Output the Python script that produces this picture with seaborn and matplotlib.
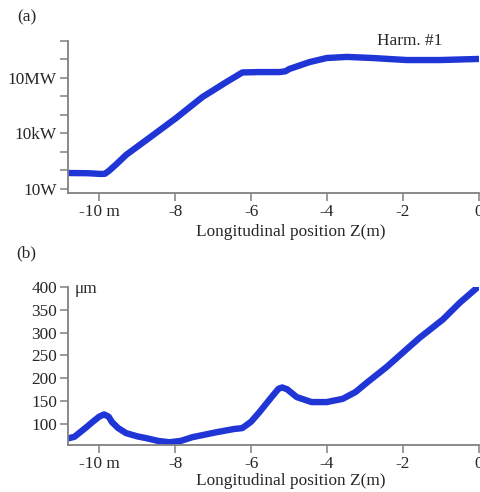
import numpy as np
import pandas as pd
import matplotlib.pyplot as plt
import seaborn as sns

# (a) 出力パワー (log10 W) vs 位置
z_power = [-10.79, -10.3, -9.95, -9.85, -9.74, -9.55, -9.29, -8.68, -7.97,
           -7.28, -6.65, -6.35, -6.23, -5.78, -5.25, -5.1, -4.99, -4.46,
           -4.01, -3.48, -2.80, -1.90, -1.03, 0.0]
log_power = [1.86, 1.85, 1.81, 1.82, 1.98, 2.33, 2.84, 3.76, 4.84,
             5.97, 6.78, 7.15, 7.30, 7.32, 7.32, 7.36, 7.49, 7.86,
             8.08, 8.14, 8.08, 7.97, 7.97, 8.03]

# (b) ビームサイズ (um) vs 位置
z_size = [-10.79, -10.65, -10.53, -10.35, -10.18, -10.0, -9.87, -9.75,
          -9.66, -9.5, -9.29, -9.0, -8.76, -8.45, -8.15, -7.85, -7.55,
          -6.91, -6.45, -6.23, -6.0, -5.78, -5.45, -5.28, -5.18, -5.05,
          -4.80, -4.41, -4.01, -3.59, -3.25, -2.96, -2.43, -1.82, -1.56,
          -0.95, -0.50, 0.0]
size_um = [69, 72, 80, 92, 104, 116, 121, 116,
           104, 91, 80, 73, 69, 63, 60, 63, 71,
           82, 89, 91, 105, 126, 160, 177, 180, 176,
           159, 148, 148, 155, 170, 190, 225, 270, 289,
           329, 366, 402]

x_ticks = [-10, -8, -6, -4, -2, 0]
x_labels = ["-10 m", "-8", "-6", "-4", "-2", "0"]
p_ticks = [1e1, 1e2, 1e3, 1e4, 1e5, 1e6, 1e7, 1e8, 1e9]
p_labels = ["10W", "", "", "10kW", "", "", "10MW", "", ""]
s_ticks = [100, 150, 200, 250, 300, 350, 400]

df_a = pd.DataFrame({"z": z_power, "P": np.power(10.0, log_power)})
df_b = pd.DataFrame({"z": z_size, "s": size_um})

sns.set_theme(style="ticks")
plt.rcParams['font.family'] = ['Liberation Serif', 'DejaVu Serif']
fs = 12.4

blue = "#2035d6"
gray = "#808080"

fig = plt.figure(figsize=(4.8, 4.92), dpi=100)
ax1 = fig.add_axes([68/480, 1-193/492, 411/480, 152/492])
ax2 = fig.add_axes([68/480, 1-445/492, 411/480, 158/492])

sns.lineplot(data=df_a, x="z", y="P", ax=ax1, color=blue, linewidth=4.6,
             solid_capstyle="round", solid_joinstyle="round")
sns.lineplot(data=df_b, x="z", y="s", ax=ax2, color=blue, linewidth=4.6,
             solid_capstyle="round", solid_joinstyle="round")

ax1.set_yscale("log")
ax1.set_ylim(10**0.78, 1e9)
ax1.set_yticks(p_ticks)
ax1.set_yticklabels(p_labels)
ax1.minorticks_off()
ax2.set_ylim(54, 400)
ax2.set_yticks(s_ticks)

for ax in (ax1, ax2):
    ax.set_xlim(-10.82, 0)
    ax.set_xticks(x_ticks)
    ax.set_xticklabels(x_labels)
    ax.set_ylabel("")
    ax.set_xlabel("Longitudinal position Z(m)", fontsize=fs)
    for s in ("top", "right"):
        ax.spines[s].set_visible(False)
    for s in ("left", "bottom"):
        ax.spines[s].set_color(gray)
        ax.spines[s].set_linewidth(1.3)
    ax.tick_params(direction="out", length=6, width=1.1, color=gray,
                   labelsize=fs, pad=2)
    ax.set_facecolor("white")

ax1.xaxis.set_label_coords(0.543, -0.205)
ax2.xaxis.set_label_coords(0.543, -0.18)

ax1.text(0.832, 1.0, "Harm. #1", transform=ax1.transAxes, ha="center",
         va="center", fontsize=fs)
ax2.text(0.015, 0.987, "μm", transform=ax2.transAxes, ha="left",
         va="center", fontsize=fs)

fig.text(17/480, 1-17/492, "(a)", ha="left", va="center", fontsize=fs)
fig.text(16/480, 1-253/492, "(b)", ha="left", va="center", fontsize=fs)

fig.savefig("out.png", dpi=100, facecolor="white")
